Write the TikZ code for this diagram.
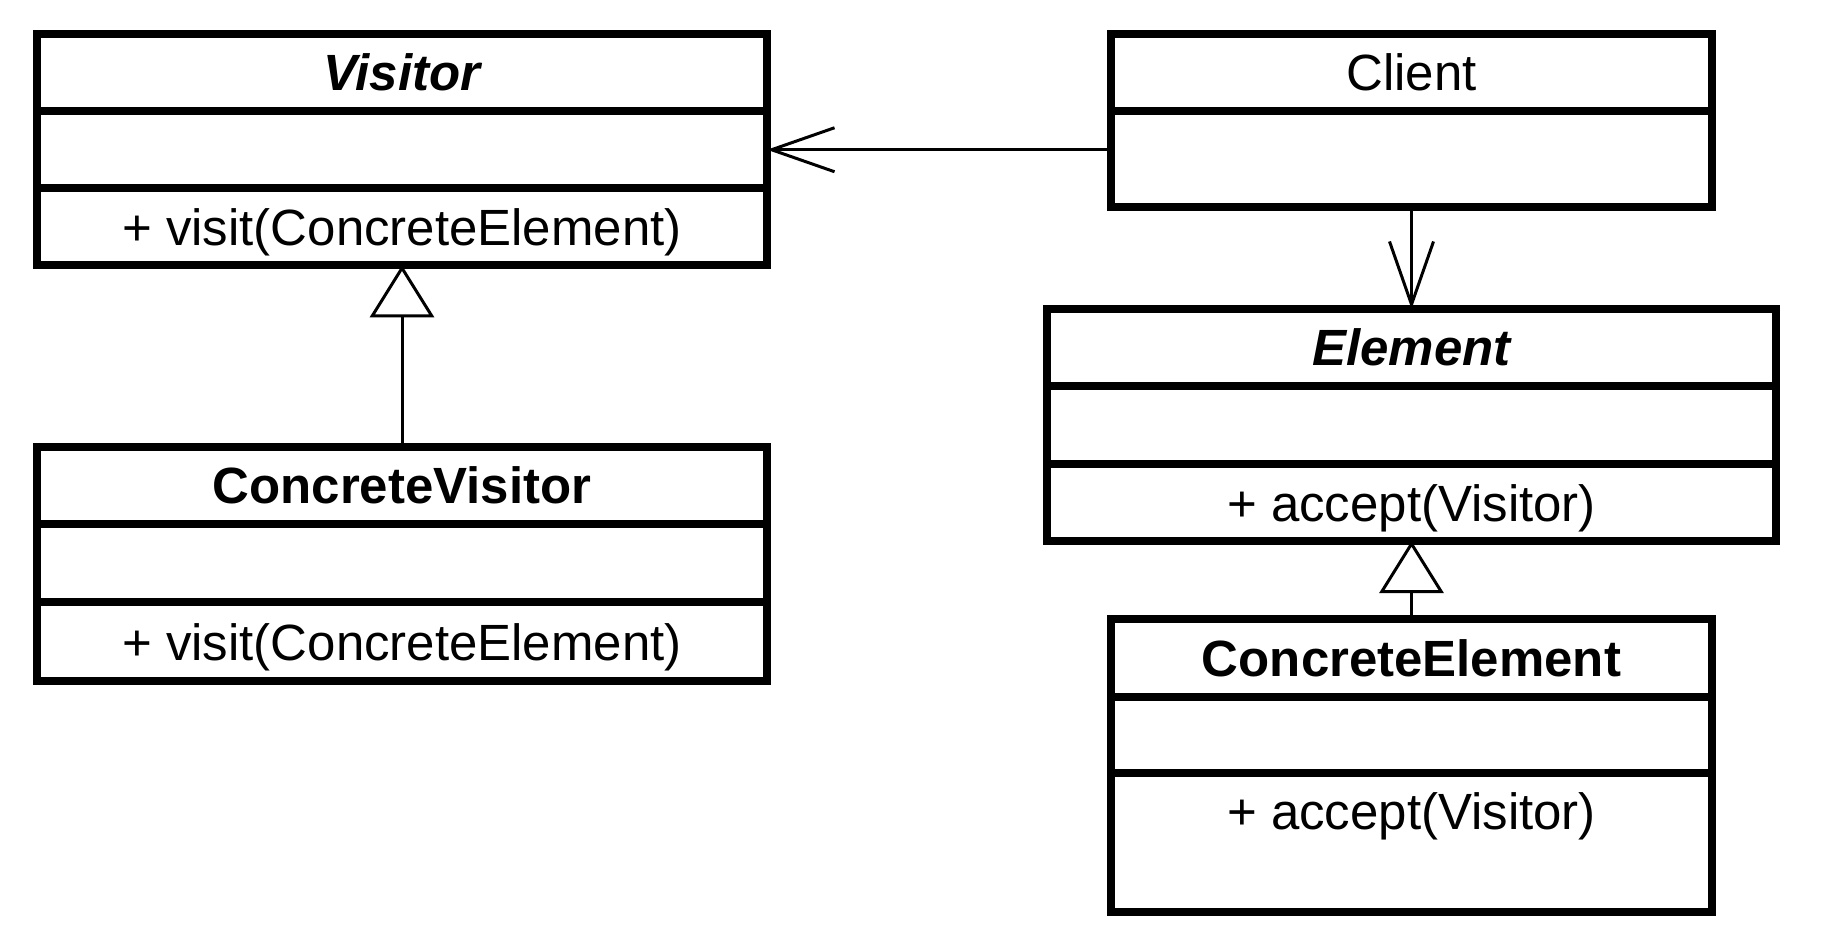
\documentclass[tikz,border=0pt]{standalone}
\usepackage{fontspec}
\setmainfont{Liberation Sans}
\usepackage{tikz}
\usetikzlibrary{positioning, arrows.meta}
\newcommand{\umlfont}{\fontsize{14.5}{17}\selectfont}

\begin{document}
\begin{tikzpicture}[
    box/.style={draw, line width=2.2pt, outer sep=0pt, inner sep=0pt, minimum height=0.77cm, font=\umlfont},
    ops/.style={box, text height=0.49cm},
    assoc/.style={line width=0.85pt, -{Straight Barb[length=6.3mm, width=4.4mm]}},
    inherit/.style={line width=0.85pt, -{Triangle[open, length=5.2mm, width=6.4mm]}}]
\useasboundingbox (0,0) rectangle (18.48,9.46);
\node[box, minimum width=7.3cm] (V1) at (4.02,8.7325) {\bfseries\itshape Visitor};
\node[box, minimum width=7.3cm, below=0pt of V1] (V2) {};
\node[ops, minimum width=7.3cm, below=0pt of V2] (V3) {+ visit(ConcreteElement)};
\node[box, minimum width=7.3cm] (CV1) at (4.02,4.605) {\bfseries ConcreteVisitor};
\node[box, minimum width=7.3cm, minimum height=0.78cm, below=0pt of CV1] (CV2) {};
\node[ops, minimum width=7.3cm, minimum height=0.79cm, below=0pt of CV2] (CV3) {+ visit(ConcreteElement)};
\node[box, minimum width=6.01cm] (C1) at (14.115,8.7325) {Client};
\node[box, minimum width=6.01cm, minimum height=0.96cm, below=0pt of C1] (C2) {};
\node[box, minimum width=7.29cm] (E1) at (14.115,5.985) {\bfseries\itshape Element};
\node[box, minimum width=7.29cm, minimum height=0.78cm, below=0pt of E1] (E2) {};
\node[ops, minimum width=7.29cm, below=0pt of E2] (E3) {+ accept(Visitor)};
\node[box, minimum width=6.01cm, minimum height=0.78cm] (CE1) at (14.115,2.88) {\bfseries ConcreteElement};
\node[box, minimum width=6.01cm, minimum height=0.76cm, below=0pt of CE1] (CE2) {};
\node[ops, minimum width=6.01cm, minimum height=1.39cm, text depth=0.75cm, below=0pt of CE2] (CE3) {+ accept(Visitor)};
\draw[assoc] (C2.west |- V2) -- (V2.east);
\draw[assoc] (C2.south) -- (E1.north);
\draw[inherit] (CV1.north) -- (V3.south);
\draw[inherit] (CE1.north) -- (E3.south);
\end{tikzpicture}
\end{document}
